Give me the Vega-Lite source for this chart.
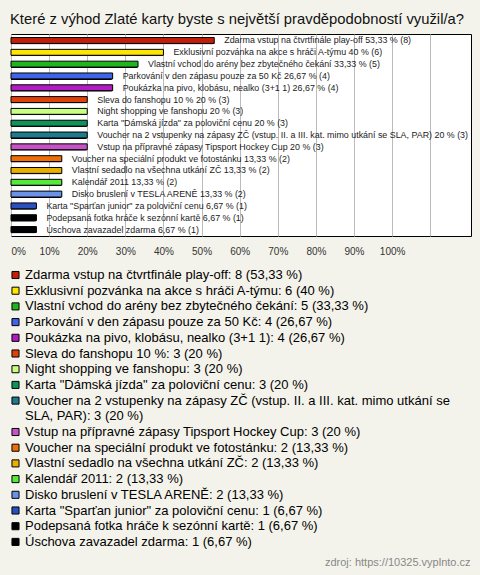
{
  "$schema": "https://vega.github.io/schema/vega-lite/v6.json",
  "autosize": {"type": "none"},
  "width": 460,
  "height": 202,
  "padding": {"left": 11, "top": 34, "right": 9, "bottom": 339},
  "background": "#f4f3eb",
  "title": {
    "text": "Které z výhod Zlaté karty byste s největší pravděpodobností využil/a?",
    "anchor": "start",
    "frame": "group",
    "font": "Liberation Sans",
    "fontSize": 14.8,
    "fontWeight": "normal",
    "color": "#111111",
    "offset": 7,
    "dx": -1
  },
  "config": {
    "view": {"fill": "white", "stroke": "black", "strokeWidth": 1}
  },
  "data": {
    "values": [
      {"name": "Zdarma vstup na čtvrtfinále play-off", "n": 8, "pct": 53.33, "ptxt": "53,33", "leg": "Zdarma vstup na čtvrtfinále play-off: 8 (53,33 %)"},
      {"name": "Exklusivní pozvánka na akce s hráči A-týmu", "n": 6, "pct": 40, "ptxt": "40", "leg": "Exklusivní pozvánka na akce s hráči A-týmu: 6 (40 %)"},
      {"name": "Vlastní vchod do arény bez zbytečného čekání", "n": 5, "pct": 33.33, "ptxt": "33,33", "leg": "Vlastní vchod do arény bez zbytečného čekání: 5 (33,33 %)"},
      {"name": "Parkování v den zápasu pouze za 50 Kč", "n": 4, "pct": 26.67, "ptxt": "26,67", "leg": "Parkování v den zápasu pouze za 50 Kč: 4 (26,67 %)"},
      {"name": "Poukázka na pivo, klobásu, nealko (3+1 1)", "n": 4, "pct": 26.67, "ptxt": "26,67", "leg": "Poukázka na pivo, klobásu, nealko (3+1 1): 4 (26,67 %)"},
      {"name": "Sleva do fanshopu 10 %", "n": 3, "pct": 20, "ptxt": "20", "leg": "Sleva do fanshopu 10 %: 3 (20 %)"},
      {"name": "Night shopping ve fanshopu", "n": 3, "pct": 20, "ptxt": "20", "leg": "Night shopping ve fanshopu: 3 (20 %)"},
      {"name": "Karta \"Dámská jízda\" za poloviční cenu", "n": 3, "pct": 20, "ptxt": "20", "leg": "Karta \"Dámská jízda\" za poloviční cenu: 3 (20 %)"},
      {"name": "Voucher na 2 vstupenky na zápasy ZČ (vstup. II. a III. kat. mimo utkání se SLA, PAR)", "n": 3, "pct": 20, "ptxt": "20", "leg": "Voucher na 2 vstupenky na zápasy ZČ (vstup. II. a III. kat. mimo utkání se"},
      {"name": "Vstup na přípravné zápasy Tipsport Hockey Cup", "n": 3, "pct": 20, "ptxt": "20", "leg": "Vstup na přípravné zápasy Tipsport Hockey Cup: 3 (20 %)"},
      {"name": "Voucher na speciální produkt ve fotostánku", "n": 2, "pct": 13.33, "ptxt": "13,33", "leg": "Voucher na speciální produkt ve fotostánku: 2 (13,33 %)"},
      {"name": "Vlastní sedadlo na všechna utkání ZČ", "n": 2, "pct": 13.33, "ptxt": "13,33", "leg": "Vlastní sedadlo na všechna utkání ZČ: 2 (13,33 %)"},
      {"name": "Kalendář 2011", "n": 2, "pct": 13.33, "ptxt": "13,33", "leg": "Kalendář 2011: 2 (13,33 %)"},
      {"name": "Disko bruslení v TESLA ARENĚ", "n": 2, "pct": 13.33, "ptxt": "13,33", "leg": "Disko bruslení v TESLA ARENĚ: 2 (13,33 %)"},
      {"name": "Karta \"Sparťan junior\" za poloviční cenu", "n": 1, "pct": 6.67, "ptxt": "6,67", "leg": "Karta \"Sparťan junior\" za poloviční cenu: 1 (6,67 %)"},
      {"name": "Podepsaná fotka hráče k sezónní kartě", "n": 1, "pct": 6.67, "ptxt": "6,67", "leg": "Podepsaná fotka hráče k sezónní kartě: 1 (6,67 %)"},
      {"name": "Úschova zavazadel zdarma", "n": 1, "pct": 6.67, "ptxt": "6,67", "leg": "Úschova zavazadel zdarma: 1 (6,67 %)"}
    ]
  },
  "transform": [
    {"calculate": "datum.name + ' ' + datum.ptxt + ' % (' + datum.n + ')'", "as": "lbl"}
  ],
  "encoding": {
    "y": {
      "field": "name",
      "type": "nominal",
      "sort": null,
      "axis": null,
      "scale": {"paddingInner": 0.5, "paddingOuter": 0.3}
    },
    "x": {
      "field": "pct",
      "type": "quantitative",
      "scale": {"domain": [0, 120.7], "nice": false, "zero": true},
      "axis": {
        "title": "zdroj: https://10325.vyplnto.cz",
        "titleFont": "Liberation Sans",
        "titleFontSize": 11,
        "titleFontWeight": "normal",
        "titleColor": "#888888",
        "titleAnchor": "end",
        "titleAlign": "right",
        "titleBaseline": "alphabetic",
        "titleX": 459,
        "titleY": 329,
        "values": [0, 10, 20, 30, 40, 50, 60, 70, 80, 90, 100, 110],
        "labelExpr": "datum.value <= 100 ? datum.value + '%' : ''",
        "labelFont": "Liberation Sans",
        "labelFontSize": 10,
        "labelColor": "#333333",
        "labelPadding": 10,
        "labelFlush": true,
        "labelOverlap": false,
        "domain": false,
        "ticks": false,
        "grid": true,
        "gridColor": "#bbbbbb",
        "gridWidth": 1
      }
    }
  },
  "layer": [
    {
      "mark": {"type": "bar", "color": "black", "x2Offset": 3, "yOffset": 1, "cornerRadiusEnd": 2},
      "encoding": {}
    },
    {
      "mark": {"type": "bar", "stroke": "black", "strokeWidth": 1},
      "encoding": {
        "color": {
          "field": "leg",
          "type": "nominal",
          "scale": {
            "domain": [
              "Zdarma vstup na čtvrtfinále play-off: 8 (53,33 %)",
              "Exklusivní pozvánka na akce s hráči A-týmu: 6 (40 %)",
              "Vlastní vchod do arény bez zbytečného čekání: 5 (33,33 %)",
              "Parkování v den zápasu pouze za 50 Kč: 4 (26,67 %)",
              "Poukázka na pivo, klobásu, nealko (3+1 1): 4 (26,67 %)",
              "Sleva do fanshopu 10 %: 3 (20 %)",
              "Night shopping ve fanshopu: 3 (20 %)",
              "Karta \"Dámská jízda\" za poloviční cenu: 3 (20 %)",
              "Voucher na 2 vstupenky na zápasy ZČ (vstup. II. a III. kat. mimo utkání se",
              "SLA, PAR): 3 (20 %)",
              "Vstup na přípravné zápasy Tipsport Hockey Cup: 3 (20 %)",
              "Voucher na speciální produkt ve fotostánku: 2 (13,33 %)",
              "Vlastní sedadlo na všechna utkání ZČ: 2 (13,33 %)",
              "Kalendář 2011: 2 (13,33 %)",
              "Disko bruslení v TESLA ARENĚ: 2 (13,33 %)",
              "Karta \"Sparťan junior\" za poloviční cenu: 1 (6,67 %)",
              "Podepsaná fotka hráče k sezónní kartě: 1 (6,67 %)",
              "Úschova zavazadel zdarma: 1 (6,67 %)"
            ],
            "range": [
              "#c41e0a", "#ffe600", "#1fb51f", "#3f66e8", "#b01bc4", "#e0400a",
              "#c8ff80", "#10935a", "#1f7a8c", "transparent", "#c653c6", "#ee6f0a",
              "#e8b000", "#56e83a", "#6a93e8", "#2a4fbf", "#000000", "#000000"
            ]
          },
          "legend": {
            "orient": "none",
            "legendX": -2,
            "legendY": 234.5,
            "direction": "vertical",
            "title": null,
            "padding": 0,
            "symbolType": "square",
            "symbolSize": 50,
            "symbolStrokeColor": "black",
            "symbolStrokeWidth": 1,
            "symbolOpacity": 1,
            "labelFont": "Liberation Sans",
            "labelFontSize": 13,
            "labelColor": "#000000",
            "labelLimit": 470,
            "labelOffset": 3,
            "rowPadding": 1.7,
            "encode": {
              "symbols": {
                "update": {
                  "strokeOpacity": {"signal": "datum.value === 'SLA, PAR): 3 (20 %)' ? 0 : 1"}
                }
              }
            }
          }
        }
      }
    },
    {
      "mark": {"type": "text", "align": "left", "baseline": "middle", "dx": 10, "font": "Liberation Sans", "fontSize": 8.9, "color": "#222222", "clip": true},
      "encoding": {"text": {"field": "lbl", "type": "nominal"}}
    }
  ]
}
